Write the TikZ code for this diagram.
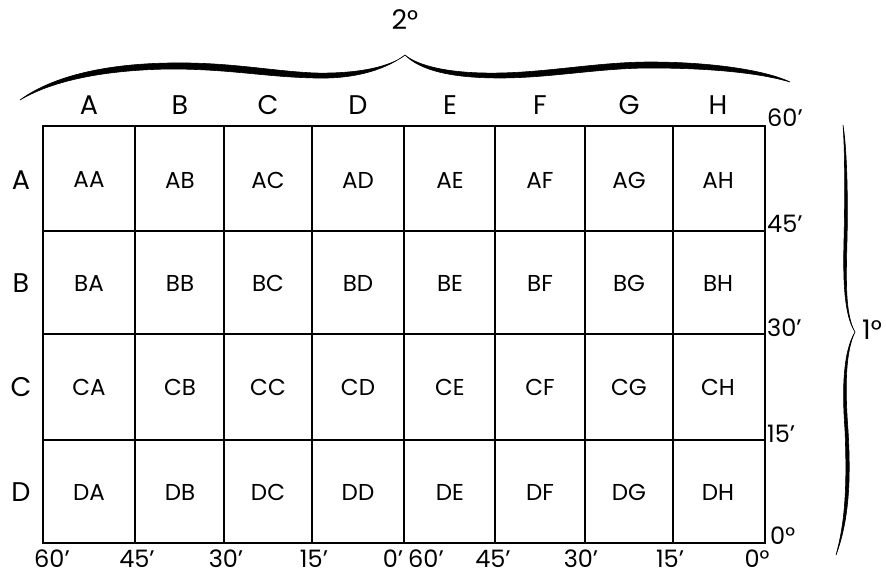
\documentclass[tikz,border=0pt]{standalone}
\usepackage{fontspec}
\setmainfont{Poppins}
\usepackage{tikz}

\begin{document}
\begin{tikzpicture}[x=1pt,y=-1pt,
    gridline/.style={line width=1.3pt},
    frameline/.style={line width=2pt, line cap=round},
    cell/.style={font=\fontsize{23}{23}\selectfont},
    head/.style={font=\fontsize{27}{27}\selectfont},
    minute/.style={font=\fontsize{24}{24}\selectfont, inner sep=0pt},
    brace/.style={fill=black, draw=black, line width=0.6pt}
]
  \useasboundingbox (0,0) rectangle (886,578);

  % innere Linien des Rasters
  \foreach \gx in {135,224,312,404,495,585,673}
    \draw[gridline] (\gx,126) -- (\gx,543);
  \foreach \gy in {231,334,440}
    \draw[gridline] (43,\gy) -- (765,\gy);

  % Rahmen
  \draw[frameline] (43,126) rectangle (765,543);

  % Spaltenköpfe
  \foreach \c/\cx in {A/89,B/180,C/268,D/358,E/450,F/540,G/629,H/718}
    \node[head] (col\c) at (\cx,105) {\c};

  % Zeilenköpfe
  \foreach \r/\ry in {A/180,B/283,C/387,D/492}
    \node[head] (row\r) at (21,\ry) {\r};

  % Felder
  \foreach \r/\ry in {A/180,B/283,C/387,D/492}
    \foreach \c/\cx in {A/89,B/180,C/268,D/358,E/450,F/540,G/629,H/718}
      \node[cell] (\r\c) at (\cx,\ry) {\r\c};

  % Minuten rechts
  \node[minute, anchor=west] (r60) at (767,118) {60'};
  \node[minute, anchor=west] (r45) at (767,224) {45'};
  \node[minute, anchor=west] (r30) at (767,328) {30'};
  \node[minute, anchor=west] (r15) at (767,434) {15'};
  \node[minute, anchor=west] (r0) at (770,536) {0°};

  % Minuten unten
  \node[minute] (b60a) at (52,559) {60'};
  \node[minute] (b45a) at (137,559) {45'};
  \node[minute] (b30a) at (226,559) {30'};
  \node[minute] (b15a) at (314,559) {15'};
  \node[minute] (b0a) at (393,559) {0'};
  \node[minute] (b60b) at (426,559) {60'};
  \node[minute] (b45b) at (493,559) {45'};
  \node[minute] (b30b) at (581,559) {30'};
  \node[minute] (b15b) at (670,559) {15'};
  \node[minute] (b0b) at (757,559) {0°};

  % geschweifte Klammer oben (2 Grad)
  \path[brace] (20,100) .. controls (50,78) and (100,64) .. (170,63)
    .. controls (230,62) and (270,71) .. (315,73)
    .. controls (360,74) and (392,66) .. (405,55)
    .. controls (382,72) and (350,79) .. (315,78)
    .. controls (265,77) and (230,69) .. (170,69)
    .. controls (100,70) and (50,82) .. (20,100) -- cycle;
  \path[brace] (405,55) .. controls (418,66) and (450,74) .. (500,73)
    .. controls (550,72) and (600,62) .. (650,62)
    .. controls (710,62) and (765,70) .. (790,82)
    .. controls (760,73) and (710,68) .. (650,68)
    .. controls (600,68) and (550,78) .. (500,78)
    .. controls (450,78) and (420,70) .. (405,55) -- cycle;
  \node[head] (deg2) at (405,20) {2°};

  % geschweifte Klammer rechts (1 Grad)
  \path[brace] (843,125) .. controls (847,150) and (848,200) .. (847,240)
    .. controls (846,280) and (845,315) .. (855,332)
    .. controls (844,315) and (843,280) .. (844,240)
    .. controls (845,200) and (845,150) .. (843,125) -- cycle;
  \path[brace] (855,332) .. controls (845,352) and (845,390) .. (848,430)
    .. controls (851,480) and (849,520) .. (836,555)
    .. controls (846,520) and (847,480) .. (845,430)
    .. controls (842,390) and (843,352) .. (855,332) -- cycle;
  \node[head] (deg1) at (872,330) {1°};

\end{tikzpicture}
\end{document}
